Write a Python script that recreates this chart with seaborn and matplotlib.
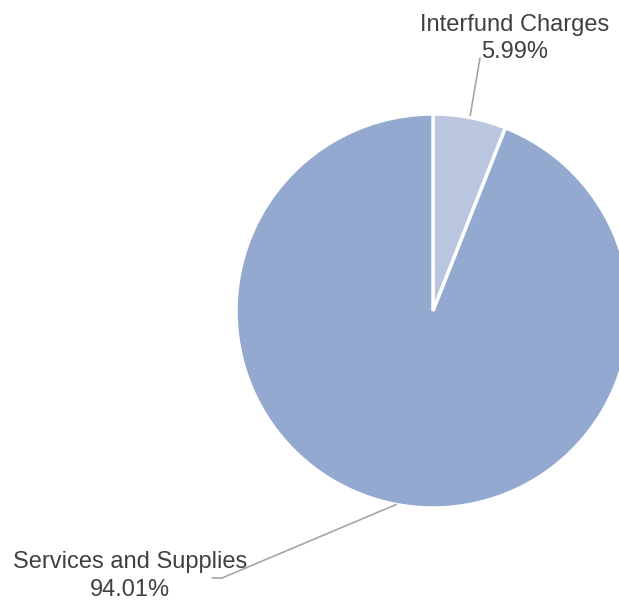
import numpy as np
import matplotlib
matplotlib.use("Agg")
import matplotlib.pyplot as plt
import seaborn as sns

# Expenditure split by category
categories = ["Interfund Charges", "Services and Supplies"]
shares = [5.99, 94.01]
label_texts = ["5.99%", "94.01%"]

sns.set_theme(style="white")
plt.rcParams["font.family"] = ["Liberation Sans", "DejaVu Sans"]

colors = ["#bac6e0", "#94a9cf"]
text_color = "#404040"
line_color = "#a6a6a6"

W, H = 619, 601
fig = plt.figure(figsize=(W / 100, H / 100), dpi=100)
fig.patch.set_facecolor("white")

# pie centre and radius in pixels
cx, cy, r = 433, 311, 197
ax = fig.add_axes([(cx - r) / W, (H - cy - r) / H, 2 * r / W, 2 * r / H])

wedges, _ = ax.pie(shares, colors=colors, startangle=90, counterclock=False,
                   radius=1.0, wedgeprops=dict(edgecolor="white", linewidth=2.5))
for w in wedges:
    w.set_clip_on(False)

ax.set_xlim(-1, 1)
ax.set_ylim(-1, 1)
ax.set_aspect("equal")
ax.axis("off")


def px(x, y):
    """pixel position -> data coordinates of the pie axes"""
    return (x - cx) / r, (cy - y) / r


# mid-angle of each slice for leader lines
cum = np.cumsum([0] + shares)
mids = [90 - 3.6 * (cum[i] + cum[i + 1]) / 2 for i in range(len(shares))]

# Interfund Charges label (top)
a = np.deg2rad(mids[0])
sx, sy = 1.01 * np.cos(a), 1.01 * np.sin(a)
ex, ey = px(480, 58)
ax.plot([sx, ex], [sy, ey], color=line_color, lw=1.2, clip_on=False)
tx, ty = px(515, 31)
ax.text(tx, ty, categories[0], ha="center", va="baseline", fontsize=17,
        color=text_color)
tx, ty = px(515, 58)
ax.text(tx, ty, label_texts[0], ha="center", va="baseline", fontsize=17,
        color=text_color)

# Services and Supplies label (bottom left)
a = np.deg2rad(mids[1])
sx, sy = 1.0 * np.cos(a), 1.0 * np.sin(a)
mx, my = px(222, 578)
ex, ey = px(212, 578)
ax.plot([sx, mx, ex], [sy, my, ey], color=line_color, lw=1.2, clip_on=False)
tx, ty = px(130, 568)
ax.text(tx, ty, categories[1], ha="center", va="baseline", fontsize=17,
        color=text_color)
tx, ty = px(130, 596)
ax.text(tx, ty, label_texts[1], ha="center", va="baseline", fontsize=17,
        color=text_color)

fig.savefig("out.png", dpi=100, facecolor="white")
